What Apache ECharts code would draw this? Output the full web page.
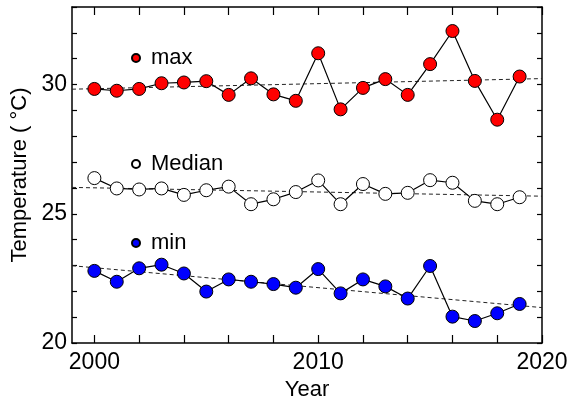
<!DOCTYPE html>
<html>
<head>
<meta charset="utf-8">
<script src="https://cdn.jsdelivr.net/npm/echarts@6/dist/echarts.min.js"></script>
<style>html,body{margin:0;padding:0;background:#fff}#c{width:577px;height:398px}</style>
</head>
<body>
<div id="c"></div>
<script>
var years = [2000,2001,2002,2003,2004,2005,2006,2007,2008,2009,2010,2011,2012,2013,2014,2015,2016,2017,2018,2019];
var maxVals = [29.83,29.76,29.83,30.05,30.08,30.13,29.60,30.24,29.62,29.37,31.21,29.04,29.87,30.21,29.60,30.79,32.07,30.14,28.64,30.31];
var medianVals = [26.38,25.98,25.94,25.98,25.73,25.91,26.05,25.37,25.56,25.84,26.29,25.37,26.15,25.77,25.81,26.30,26.20,25.50,25.37,25.64];
var minVals = [22.79,22.37,22.89,23.03,22.69,21.99,22.46,22.37,22.28,22.14,22.86,21.92,22.46,22.19,21.72,22.98,21.02,20.85,21.15,21.51];
var trendYears = [1999, 2020];
var maxTrend = [29.82, 30.23];
var medianTrend = [26.02, 25.68];
var minTrend = [22.99, 21.37];
var xTicks = [2000,2002,2004,2006,2008,2010,2012,2014,2016,2018,2020];
var xTickLabels = [2000,2010,2020];
var yTicks = [20,21,22,23,24,25,26,27,28,29,30,31,32,33];
var yTickLabels = [20,25,30];

function pairs(xs, ys){ return xs.map(function(x,i){ return [x, ys[i]]; }); }

var FONT = 'Liberation Sans, Arial, Helvetica, sans-serif';
var chart = echarts.init(document.getElementById('c'), null, {renderer:'canvas'});
var axisLine = {show:true, lineStyle:{color:'#000', width:1.5}};
function plain(v){ return String(v); }
function dataSeries(name, vals, fill){
  return {name:name, type:'line', data:pairs(years, vals), symbol:'circle', symbolSize:13,
    lineStyle:{color:'#000', width:1.2}, itemStyle:{color:fill, borderColor:'#000', borderWidth:1},
    z:5, animation:false};
}
function trendSeries(vals){
  return {type:'line', data:pairs(trendYears, vals), symbol:'none', silent:true,
    lineStyle:{color:'#222', width:1, type:[4,3]}, z:2, animation:false};
}
function legendAt(name, top){
  return {data:[{name:name, icon:'circle'}], left:126, top:top, itemWidth:20, itemHeight:8, itemGap:0,
    textStyle:{fontSize:22, color:'#000', fontFamily:FONT}, selectedMode:false};
}
chart.setOption({
  animation:false,
  grid:{left:72, right:35, top:7, bottom:55, containLabel:false, outerBoundsMode:'none'},
  legend:[legendAt('max', 42), legendAt('Median', 148), legendAt('min', 227)],
  xAxis:[{
    type:'value', min:1999, max:2020, position:'bottom',
    name:'Year', nameLocation:'middle', nameGap:26,
    nameTextStyle:{fontSize:22, color:'#000', fontFamily:FONT},
    axisLine:axisLine, splitLine:{show:false},
    axisTick:{show:true, inside:true, length:8, lineStyle:{color:'#000', width:1.2}, customValues:xTicks},
    axisLabel:{show:true, fontSize:23, color:'#000', fontFamily:FONT, margin:8, customValues:xTickLabels, formatter:plain}
  },{
    type:'value', min:1999, max:2020, position:'top',
    axisLine:axisLine, splitLine:{show:false},
    axisTick:{show:true, inside:true, length:8, lineStyle:{color:'#000', width:1.2}, customValues:xTicks},
    axisLabel:{show:false}
  }],
  yAxis:[{
    type:'value', min:20, max:33, position:'left',
    name:'Temperature ( °C)', nameLocation:'middle', nameGap:38, nameRotate:90,
    nameTextStyle:{fontSize:22, color:'#000', fontFamily:FONT},
    axisLine:axisLine, splitLine:{show:false},
    axisTick:{show:true, inside:true, length:5, lineStyle:{color:'#000', width:1.2}, customValues:yTicks},
    axisLabel:{show:true, fontSize:23, color:'#000', fontFamily:FONT, margin:5, customValues:yTickLabels, formatter:plain}
  },{
    type:'value', min:20, max:33, position:'right',
    axisLine:axisLine, splitLine:{show:false},
    axisTick:{show:true, inside:true, length:5, lineStyle:{color:'#000', width:1.2}, customValues:yTicks},
    axisLabel:{show:false}
  }],
  series:[
    trendSeries(maxTrend), trendSeries(medianTrend), trendSeries(minTrend),
    dataSeries('max', maxVals, '#ff0000'),
    dataSeries('Median', medianVals, '#ffffff'),
    dataSeries('min', minVals, '#0000ff')
  ]
});
</script>
</body>
</html>
